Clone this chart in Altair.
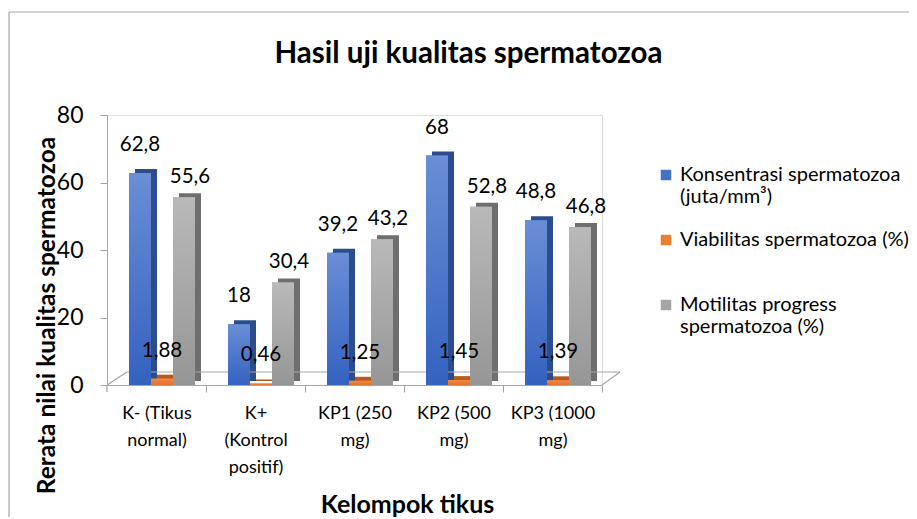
import altair as alt
import pandas as pd

categories = ["K- (Tikus|normal)", "K+|(Kontrol|positif)", "KP1 (250|mg)", "KP2 (500|mg)", "KP3 (1000|mg)"]
series = ["Konsentrasi spermatozoa|(juta/mm³)", "Viabilitas spermatozoa (%)|", "Motilitas progress|spermatozoa (%)"]
konsentrasi = [62.8, 18, 39.2, 68, 48.8]
viabilitas = [1.88, 0.46, 1.25, 1.45, 1.39]
motilitas = [55.6, 30.4, 43.2, 52.8, 46.8]
y_ticks = [0, 20, 40, 60, 80]

front_colors = ["#4472C4", "#ED7D31", "#A5A5A5"]
side_colors = ["#2c4d8c", "#b85a20", "#6e6e6e"]
grad_top = ["#6a8ed6", "#f08a45", "#b9b9b9"]
grad_bot = ["#3462c0", "#e0702a", "#969696"]
label_dy = [-22, -22, -14]
label_dx = [0, 0, 6]

rows = []
for vals, s in zip([konsentrasi, viabilitas, motilitas], series):
    for c, v in zip(categories, vals):
        rows.append({"kelompok": c, "seri": s, "nilai": v,
                     "label": f"{v:g}".replace(".", ",")})
df = pd.DataFrame(rows)

FONT = "Lato"
W, H = 495, 270
GRAY = "#a6a6a6"

x_enc = alt.X("kelompok:N", sort=categories,
              scale=alt.Scale(domain=categories, paddingInner=1/3, paddingOuter=1/6),
              axis=alt.Axis(title="Kelompok tikus", titleFont=FONT, titleFontSize=25,
                            titleFontWeight="bold", titleColor="black",
                            titleX=300, titleY=127, titleAlign="center",
                            titleBaseline="alphabetic",
                            labelExpr="split(datum.label, '|')", labelFont=FONT,
                            labelFontSize=18, labelColor="black", labelAngle=0,
                            labelLineHeight=27, labelPadding=12, labelBaseline="top",
                            tickOffset=49.5, labelOffset=-49.5, tickSize=7,
                            tickColor=GRAY, domainColor=GRAY, labelLimit=200))


def xo(shift):
    return alt.XOffset("seri:N", sort=series,
                       scale=alt.Scale(domain=series, range=[shift, shift + 66],
                                       paddingInner=0, paddingOuter=0))


def xo_text(shift):
    # point positions at the centres of the bars
    return alt.XOffset("seri:N", sort=series,
                       scale=alt.Scale(domain=series, range=[shift + 11, shift + 55],
                                       padding=0))


y_enc = alt.Y("nilai:Q", scale=alt.Scale(domain=[0, 80]),
              axis=alt.Axis(values=y_ticks, title="Rerata nilai kualitas spermatozoa",
                            titleFont=FONT, titleFontSize=24.5, titleFontWeight="bold",
                            titleColor="black", titleX=-60, titleY=200,
                            titleAlign="center", titleBaseline="middle",
                            labelFont=FONT, labelFontSize=23, labelColor="black",
                            labelPadding=17, tickSize=7, tickColor=GRAY,
                            domainColor=GRAY, grid=False))

base = alt.Chart(df)

layers = []
# shadows (3D side faces)
for i, s in enumerate(series):
    layers.append(base.transform_filter(alt.datum.seri == s)
                  .mark_bar(color=side_colors[i], yOffset=-4)
                  .encode(x=x_enc, xOffset=xo(11.5), y=y_enc))

one = alt.Chart(pd.DataFrame({"a": [0]}))
deco = [
    # floor back edge and sides
    dict(x=20, x2=513, y=257, y2=257),
    dict(x=0, x2=20, y=270, y2=257),
    dict(x=495, x2=513, y=270, y2=257),
    # first tick under the floor
    dict(x=0, x2=0, y=270, y2=277),
    # frame
    dict(x=-98, x2=820, y=-103, y2=-103),
    dict(x=-98, x2=-98, y=-103, y2=420),
]
for d in deco:
    layers.append(one.mark_rule(color=GRAY, strokeWidth=1.2).encode(
        x=alt.value(d["x"]), x2=alt.value(d["x2"]),
        y=alt.value(d["y"]), y2=alt.value(d["y2"])))

# base bars with legend
layers.append(base.mark_bar().encode(
    x=x_enc, xOffset=xo(5.5), y=y_enc,
    color=alt.Color("seri:N", sort=series,
                    scale=alt.Scale(domain=series, range=front_colors),
                    legend=alt.Legend(title=None, orient="none", legendX=549, legendY=50,
                                      labelExpr="split(datum.label, '|')",
                                      labelFont=FONT, labelFontSize=20,
                                      labelColor="black", labelLimit=300,
                                      symbolType="square", symbolSize=110,
                                      symbolStrokeWidth=0, rowPadding=23,
                                      labelOffset=4, padding=0))))

# gradient overlays
for i, s in enumerate(series):
    grad = alt.LinearGradient(gradient="linear",
                              stops=[alt.GradientStop(color=grad_top[i], offset=0),
                                     alt.GradientStop(color=grad_bot[i], offset=1)],
                              x1=0, x2=0, y1=0, y2=1)
    layers.append(base.transform_filter(alt.datum.seri == s)
                  .mark_bar(color=grad)
                  .encode(x=x_enc, xOffset=xo(5.5), y=y_enc))

# value labels
for i, s in enumerate(series):
    layers.append(base.transform_filter(alt.datum.seri == s)
                  .mark_text(dx=label_dx[i], dy=label_dy[i],
                             baseline="alphabetic", font=FONT, fontSize=20.5, color="black")
                  .encode(x=x_enc, xOffset=xo_text(5.5), y=y_enc, text="label:N"))

chart = alt.layer(*layers).resolve_scale(xOffset="independent").properties(
    width=W, height=H,
    title=alt.TitleParams("Hasil uji kualitas spermatozoa", font=FONT, fontSize=29.5,
                          fontWeight="bold", color="black", anchor="middle",
                          dx=114, offset=-58, frame="group"),
    autosize=alt.AutoSizeParams(type="none"),
    padding={"left": 99, "top": 107, "right": 307, "bottom": 132},
).configure_view(stroke=None).configure(background="white")

chart.save("out.html", embed_options={"renderer": "svg", "actions": False})
